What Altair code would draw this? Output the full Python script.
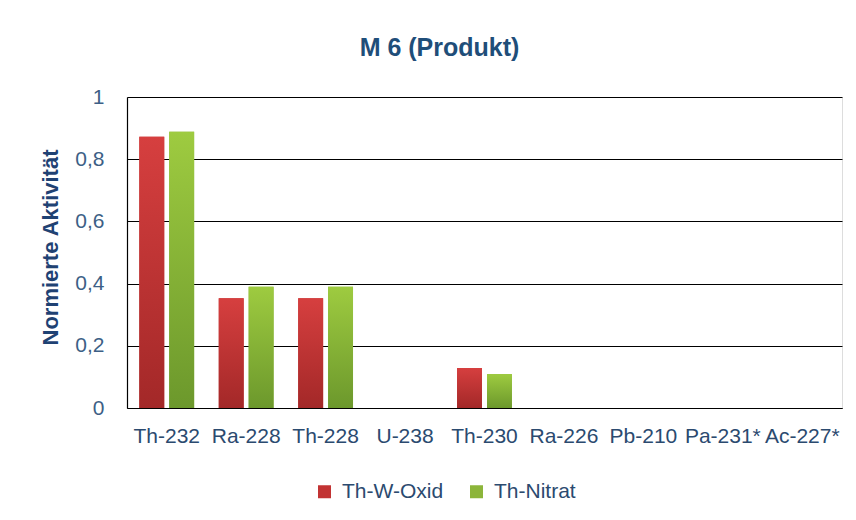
import altair as alt
import pandas as pd

isotopes = ["Th-232", "Ra-228", "Th-228", "U-238", "Th-230", "Ra-226", "Pb-210", "Pa-231*", "Ac-227*"]
series = ["Th-W-Oxid", "Th-Nitrat"]
oxid = [0.872, 0.353, 0.353, 0, 0.129, 0, 0, 0, 0]
nitrat = [0.888, 0.390, 0.390, 0, 0.109, 0, 0, 0, 0]

rows = []
for i, iso in enumerate(isotopes):
    rows.append({"Isotop": iso, "Serie": series[0], "Wert": oxid[i]})
    rows.append({"Isotop": iso, "Serie": series[1], "Wert": nitrat[i]})
df = pd.DataFrame(rows)

FONT = "Liberation Sans, Arial, sans-serif"
W, H = 715, 311

x_enc = alt.X("Isotop:N", sort=isotopes, title=None,
              scale=alt.Scale(paddingInner=0.31, paddingOuter=0.155),
              axis=alt.Axis(labelAngle=0, ticks=False, domain=True, domainColor="#000000",
                            domainWidth=1.2, labelFont=FONT, labelFontSize=21,
                            labelColor="#2b4a6f", labelPadding=17, grid=False))
xo_enc = alt.XOffset("Serie:N", sort=series,
                     scale=alt.Scale(domain=series, paddingInner=0.167, paddingOuter=0))
y_enc = alt.Y("Wert:Q", title="Normierte Aktivität",
              scale=alt.Scale(domain=[0, 1], nice=False),
              axis=alt.Axis(values=[0, 0.2, 0.4, 0.6, 0.8, 1.0], ticks=False,
                            domainColor="#000000", domainWidth=1.2,
                            gridColor="#000000", gridWidth=1, gridOpacity=1,
                            labelExpr="datum.value == 0 ? '0' : datum.value == 1 ? '1' : replace(format(datum.value, '.1f'), '.', ',')",
                            labelFont=FONT, labelFontSize=21, labelColor="#3d5f86",
                            labelPadding=23,
                            titleFont=FONT, titleFontSize=22, titleFontWeight="bold",
                            titleColor="#1f4273", titleX=-77, titleY=150,
                            titleAngle=-90, titleAlign="center", titleBaseline="middle"))

base = alt.Chart(df)

legend_bars = base.mark_bar().encode(
    x=x_enc, xOffset=xo_enc, y=y_enc,
    color=alt.Color("Serie:N", sort=series, title=None,
                    scale=alt.Scale(domain=series, range=["#c23333", "#8cb53a"]),
                    legend=alt.Legend(orient="none", legendX=187, legendY=384,
                                      direction="horizontal", symbolType="square",
                                      symbolSize=169, symbolStrokeWidth=0,
                                      labelFont=FONT, labelFontSize=21,
                                      labelColor="#2b4a6f", labelOffset=7,
                                      columnPadding=22, labelLimit=300)),
)

red_grad = alt.Gradient(gradient="linear", x1=0, y1=0, x2=0, y2=1,
                        stops=[alt.GradientStop(color="#d63f3f", offset=0),
                               alt.GradientStop(color="#a32828", offset=1)])
green_grad = alt.Gradient(gradient="linear", x1=0, y1=0, x2=0, y2=1,
                          stops=[alt.GradientStop(color="#9ecb40", offset=0),
                                 alt.GradientStop(color="#6c982c", offset=1)])

red_bars = base.transform_filter(alt.datum.Serie == series[0]).mark_bar(fill=red_grad).encode(
    x=x_enc, xOffset=xo_enc, y=y_enc)
green_bars = base.transform_filter(alt.datum.Serie == series[1]).mark_bar(fill=green_grad).encode(
    x=x_enc, xOffset=xo_enc, y=y_enc)

chart = alt.layer(legend_bars, red_bars, green_bars).properties(
    width=W, height=H,
    title=alt.TitleParams("M 6 (Produkt)", font=FONT, fontSize=25, fontWeight="bold",
                          color="#1f4e79", anchor="middle", dx=-45, offset=25),
    autosize=alt.AutoSizeParams(type="none"),
    padding={"left": 119, "top": 89, "right": 6, "bottom": 100},
).configure_view(stroke=None).configure(background="white")

chart.save("out.html", embed_options={"renderer": "svg", "actions": False})
